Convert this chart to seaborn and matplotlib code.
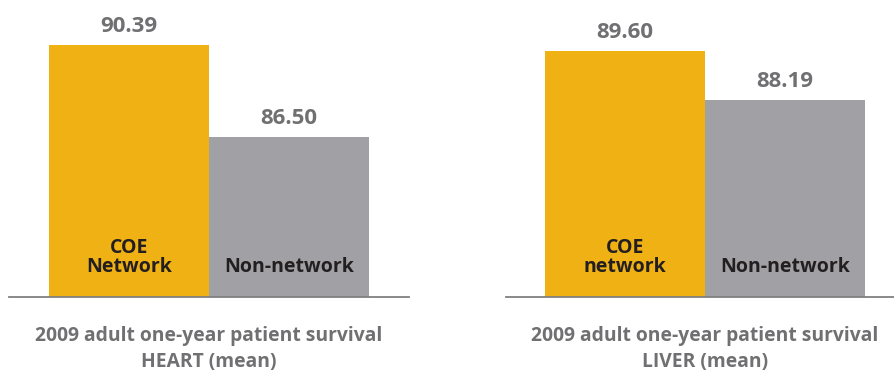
import matplotlib
matplotlib.use("Agg")
import matplotlib.pyplot as plt
import seaborn as sns
import pandas as pd

sns.set_theme(style="white")
plt.rcParams["font.family"] = ["Open Sans", "DejaVu Sans"]

# Survival rates (%) by network status
categories = ["COE network", "Non-network"]
heart_labels = ["COE\nNetwork", "Non-network"]
liver_labels = ["COE\nnetwork", "Non-network"]
heart_values = [90.39, 86.50]
liver_values = [89.60, 88.19]
panel_titles = [
    "2009 adult one-year patient survival\nHEART (mean)",
    "2009 adult one-year patient survival\nLIVER (mean)",
]

GOLD = "#EFB114"
GRAY = "#A1A0A5"
VALUE_COLOR = "#707072"
INNER_COLOR = "#231F20"
AXIS_COLOR = "#808080"

W, H = 895, 371
fig = plt.figure(figsize=(W / 100, H / 100), dpi=100)

# axes placement in pixels: (left, right, top, bottom), plus y-range and x-range
panels = [
    dict(px=(9, 409, 10, 296.7), ylim=(79.72, 91.87), xlim=(-0.75, 1.75),
         values=heart_values, labels=heart_labels, title=panel_titles[0]),
    dict(px=(506, 895, 10, 296.7), ylim=(82.53, 90.78), xlim=(-0.744, 1.687),
         values=liver_values, labels=liver_labels, title=panel_titles[1]),
]

for p in panels:
    l, r, t, b = p["px"]
    ax = fig.add_axes([l / W, 1 - b / H, (r - l) / W, (b - t) / H])
    df = pd.DataFrame({"category": categories, "value": p["values"]})
    sns.barplot(data=df, x="category", y="value", hue="category",
                palette=[GOLD, GRAY], width=1.0, saturation=1, legend=False,
                linewidth=0, ax=ax)
    ax.set_ylim(*p["ylim"])
    ax.set_xlim(*p["xlim"])

    for cont in ax.containers:
        ax.bar_label(cont, fmt="%.2f", padding=5.5, fontsize=16, fontweight="bold",
                     color=VALUE_COLOR)

    for i, lab in enumerate(p["labels"]):
        ax.annotate(lab, xy=(i, p["ylim"][0]), xytext=(0, 13.9),
                    textcoords="offset points", ha="center", va="bottom",
                    fontsize=14.0, fontweight="bold", color=INNER_COLOR,
                    linespacing=0.95, annotation_clip=False)

    # panel caption centred under the pair of bars
    ax.annotate(p["title"], xy=(0.5, p["ylim"][0]), xytext=(0, -21.2),
                textcoords="offset points", ha="center", va="top",
                fontsize=13.9, fontweight="bold", color=VALUE_COLOR,
                linespacing=1.42, multialignment="center", annotation_clip=False)

    for side in ["top", "left", "right"]:
        ax.spines[side].set_visible(False)
    ax.spines["bottom"].set_color(AXIS_COLOR)
    ax.spines["bottom"].set_linewidth(1.3)
    ax.set_yticks([])
    ax.set_xticks([])
    ax.set_ylabel("")
    ax.set_xlabel("")
    ax.patch.set_alpha(0)

fig.savefig("out.png", dpi=100)
